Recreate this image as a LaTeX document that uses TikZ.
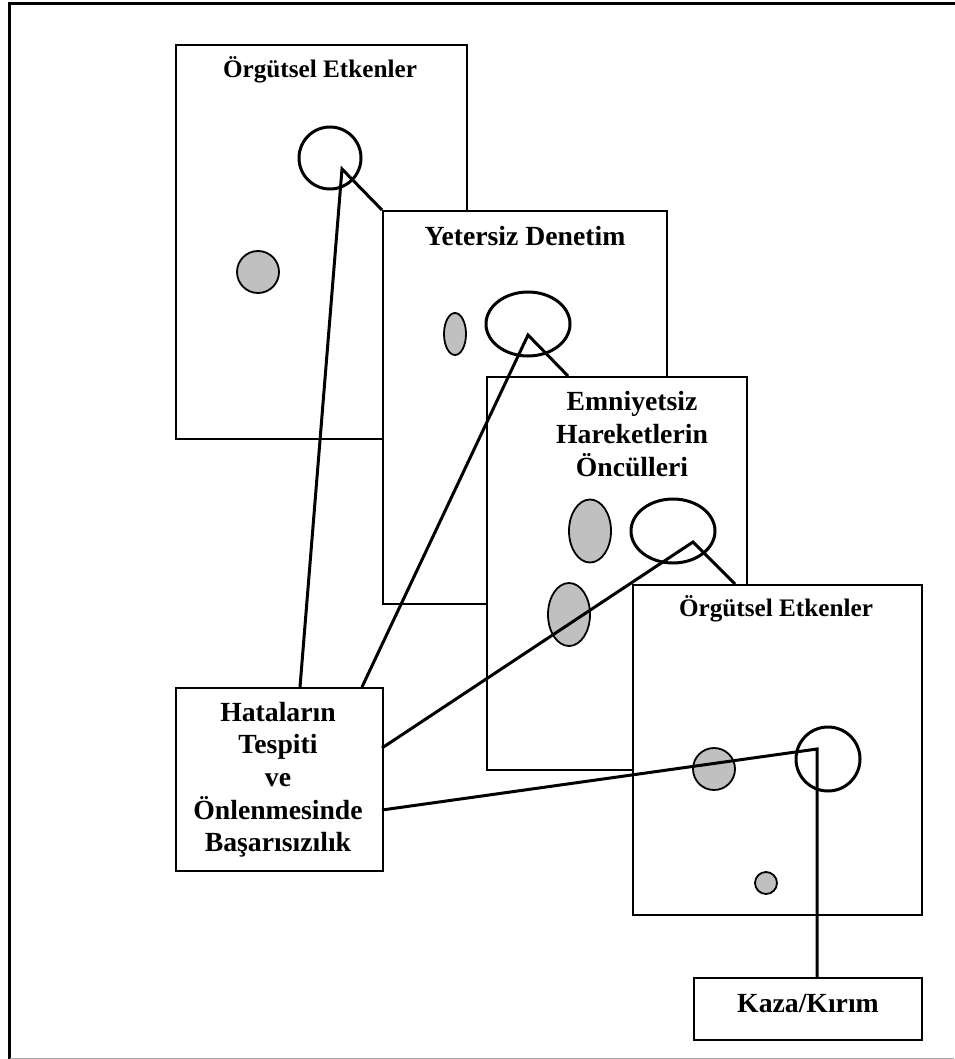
\documentclass[tikz,border=0pt]{standalone}
\usepackage{fontspec}
\setmainfont{Liberation Serif}
\usetikzlibrary{shapes.geometric}
\definecolor{spotgray}{HTML}{C0C0C0}
\begin{document}
\begin{tikzpicture}[x=1pt,y=-1pt,
  panel/.style={draw=black, fill=white, line width=1.6pt, anchor=north west, inner sep=0pt},
  heading/.style={font=\fontsize{27.7}{32.6}\selectfont\bfseries, align=center, inner sep=0pt, anchor=base},
  smallheading/.style={heading, font=\fontsize{25.2}{30}\selectfont\bfseries},
  hole/.style={draw=black, line width=3pt, inner sep=0pt},
  spot/.style={draw=black, fill=spotgray, line width=1.8pt, inner sep=0pt},
  link/.style={line width=3pt, line join=miter},
]
\useasboundingbox (0,0) rectangle (954,1059);

% outer frame
\draw[line width=3pt] (9.5,1059) -- (9.5,3.3) -- (960,3.3);
\draw[black!35, line width=1pt] (9.5,1058.4) -- (954,1058.4);

% first layer: organisational factors
\node[panel, minimum width=291, minimum height=394] (b1) at (175,44) {};
\node[smallheading] (t1) at (320,78) {Örgütsel Etkenler};
\node[hole, circle, minimum size=62] (c1) at (330,158) {};
\node[spot, circle, minimum size=42] (s1) at (258,272) {};

% second layer: inadequate supervision
\node[panel, minimum width=284, minimum height=393] (b2) at (382,210) {};
\node[heading] (t2) at (525,246) {Yetersiz Denetim};
\node[hole, ellipse, minimum width=84, minimum height=64] (c2) at (528,324) {};
\node[spot, ellipse, minimum width=22, minimum height=42] (s2) at (455,334) {};

% third layer: preconditions for unsafe acts (base = last line)
\node[panel, minimum width=260, minimum height=393] (b3) at (486,376) {};
\node[heading] (t3) at (632,476) {Emniyetsiz\\Hareketlerin\\Öncülleri};
\node[spot, ellipse, minimum width=42, minimum height=63] (s3a) at (590,531) {};
\node[hole, ellipse, minimum width=84, minimum height=64] (c3) at (673,531) {};
\node[spot, ellipse, minimum width=42, minimum height=63] (s3b) at (569,614.5) {};

% fourth layer: organisational factors
\node[panel, minimum width=289, minimum height=330] (b4) at (632,584) {};
\node[smallheading] (t4) at (776,616) {Örgütsel Etkenler};
\node[spot, circle, minimum size=42] (s4a) at (714,769) {};
\node[hole, circle, minimum size=64] (c4) at (828,759) {};
\node[spot, circle, minimum size=22] (s4b) at (766,883) {};

% failure box and accident box
\node[panel, line width=2pt, minimum width=207, minimum height=183] (hat) at (175,687) {};
\node[heading] (th) at (278,851.7) {Hataların\\Tespiti\\ve\\Önlenmesinde\\Başarısızılık};
\node[panel, line width=2pt, minimum width=228, minimum height=62] (kaza) at (693,977) {};
\node[heading] (tk) at (808,1012.7) {Kaza/Kırım};

% points where the failure path passes through each layer
\coordinate (v1) at (342,169);
\coordinate (v2) at (528,335);
\coordinate (v3) at (693,542);
\coordinate (v4) at (817,749);
\coordinate (h1) at (300,687);
\coordinate (h2) at (362,687);
\coordinate (h3) at (382,748);
\coordinate (h4) at (382,810);
\coordinate (e2) at (568,376);
\coordinate (e3) at (735,584);
\coordinate (e4) at (817,977);

\draw[link] (h1) -- (v1) -- (b2.north west);
\draw[link] (h2) -- (v2) -- (e2);
\draw[link] (h3) -- (v3) -- (e3);
\draw[link] (h4) -- (v4) -- (e4);
\end{tikzpicture}
\end{document}
